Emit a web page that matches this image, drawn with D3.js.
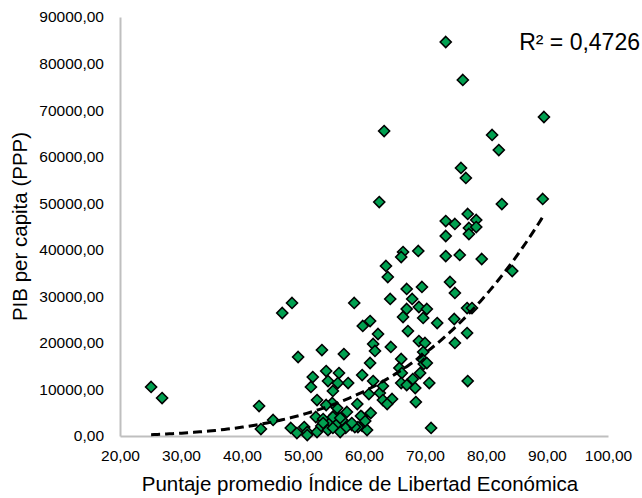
<!DOCTYPE html>
<html>
<head>
<meta charset="utf-8">
<script src="https://cdn.jsdelivr.net/npm/d3@7"></script>
<style>
    body { margin: 0; background: #fff; }
    svg { display: block; font-family: "Liberation Sans", Arial, sans-serif; }
</style>
</head>
<body>
<div class="svg-target"></div>
<script>
// Puntaje promedio (x) and PIB per capita PPP (y)
const scores = [
    73.4, 76.2, 89.5, 63.3, 81.0, 82.1, 75.9, 76.7, 62.5, 82.6,
    89.3, 77.0, 73.4, 74.9, 78.4, 77.2, 78.4, 77.2, 73.4, 66.4,
    66.1, 68.9, 73.4, 75.7, 79.3, 84.3, 63.6, 63.9, 74.1, 74.9,
    69.5, 67.0, 64.3, 67.9, 67.0, 69.0, 70.3, 76.9, 77.7, 66.4,
    69.7, 72.0, 74.8, 61.0, 59.8, 67.2, 62.3, 76.9, 74.9, 69.0,
    70.0, 61.5, 61.8, 64.4, 69.7, 61.0, 66.1, 69.5, 69.8, 65.8,
    66.2, 69.2, 59.7, 61.5, 66.1, 67.0, 68.0, 68.4, 70.7, 77.0,
    60.8, 62.6, 63.1, 64.6, 63.8, 68.5, 61.1, 59.7, 59.7, 60.5,
    71.0, 58.4, 46.6, 48.2, 49.2, 53.1, 53.8, 51.6, 54.1, 51.3,
    54.9, 52.3, 42.8, 45.1, 43.1, 52.1, 53.3, 48.0, 49.0, 50.2,
    50.7, 52.3, 53.0, 54.1, 54.6, 55.7, 55.2, 55.6, 56.7, 55.9,
    57.4, 55.7, 63.1, 58.9, 54.8, 57.2, 59.5, 54.9, 56.4, 58.0,
    60.2, 54.9, 57.0, 59.0, 56.1, 56.1, 53.8, 58.5, 25.1, 26.9,
    58.0, 53.3, 50.7, 70.3
];
const gdp = [
    84630, 76470, 68520, 65510, 64660, 61430, 57570, 55420, 50260, 49830,
    50910, 47690, 46180, 45540, 46400, 44680, 44890, 43390, 42960, 39520,
    38450, 39740, 38660, 38880, 38020, 35440, 36520, 34150, 33080, 30720,
    32010, 31580, 29430, 29430, 27280, 27710, 27280, 27490, 27490, 25560,
    25350, 24270, 25130, 24700, 23630, 22550, 21910, 22120, 19980, 20400,
    19980, 19760, 18260, 19120, 18040, 15680, 16540, 16540, 15470, 14610,
    13530, 13530, 13100, 11810, 11380, 10950, 12240, 10310, 11380, 11810,
    9020, 9240, 7730, 7950, 6870, 7300, 4940, 4080, 2150, 1290,
    1720, 28570, 26420, 28570, 16970, 18470, 13960, 12670, 11810, 10530,
    9670, 7730, 6440, 3440, 1500, 4080, 3650, 1720, 640, 1930,
    860, 860, 2150, 1290, 3010, 2790, 4510, 6010, 17610, 13530,
    11380, 11380, 10740, 6870, 7090, 5160, 4300, 4080, 3440, 2360,
    3220, 1720, 1720, 1930, 860, 3870, 6660, 1930, 10530, 8160,
    2790, 2790, 210, 15680
];

// Axis ticks
const xTicks = [20, 30, 40, 50, 60, 70, 80, 90, 100];
const yTicks = [0, 10000, 20000, 30000, 40000, 50000, 60000, 70000, 80000, 90000];

// Power trendline y = a * x^b
const trendA = 0.00074;
const trendB = 4;
const rSquared = 'R² = 0,4726';

const xTitle = 'Puntaje promedio Índice de Libertad Económica';
const yTitle = 'PIB per capita (PPP)';

const w = 642;
const h = 498;
const padding = {t: 17, r: 34, b: 62, l: 120};

const esLocale = d3.formatLocale({decimal: ',', thousands: '', grouping: [3], currency: ['', '']});
const fmt = esLocale.format('.2f');

const renderChart = () => {
    const svg = d3.select('.svg-target')
        .html('')
        .append('svg')
        .attr('width', w)
        .attr('height', h);

    const xScale = d3.scaleLinear()
        .domain([20, 100])
        .range([padding.l, w - padding.r]);
    const yScale = d3.scaleLinear()
        .domain([0, 90000])
        .range([h - padding.b, padding.t]);

    // x axis
    const xAxis = d3.axisBottom(xScale)
        .tickValues(xTicks)
        .tickSize(0)
        .tickPadding(14)
        .tickFormat(fmt);
    const gx = svg.append('g')
        .attr('id', 'x-axis')
        .attr('transform', `translate(0, ${h - padding.b})`)
        .call(xAxis);

    // y axis
    const yAxis = d3.axisLeft(yScale)
        .tickValues(yTicks)
        .tickSize(0)
        .tickPadding(16)
        .tickFormat(fmt);
    const gy = svg.append('g')
        .attr('id', 'y-axis')
        .attr('transform', `translate(${padding.l}, 0)`)
        .call(yAxis);

    [gx, gy].forEach(g => {
        g.select('.domain').attr('stroke', '#bfbfbf').attr('stroke-width', 2);
        g.selectAll('text')
            .attr('font-family', '"Liberation Sans", Arial, sans-serif')
            .attr('font-size', 15.5)
            .attr('fill', '#000');
    });

    // titles
    svg.append('text')
        .attr('x', (padding.l + w - padding.r) / 2 - 4)
        .attr('y', 491)
        .attr('text-anchor', 'middle')
        .attr('font-size', 20.5)
        .text(xTitle);
    svg.append('text')
        .attr('transform', `translate(27, ${(padding.t + h - padding.b) / 2}) rotate(-90)`)
        .attr('text-anchor', 'middle')
        .attr('font-size', 20.5)
        .text(yTitle);

    // points
    const diamond = 'M0,-5.5L5.5,0L0,5.5L-5.5,0Z';
    svg.append('g')
        .selectAll('path')
        .data(scores.map((s, i) => ({x: s, y: gdp[i]})))
        .join('path')
        .attr('d', diamond)
        .attr('transform', d => `translate(${xScale(d.x)}, ${yScale(d.y)})`)
        .attr('fill', '#00a050')
        .attr('stroke', '#000')
        .attr('stroke-width', 1.6);

    // dashed trendline over the data range
    const xMin = d3.min(scores);
    const xMax = d3.max(scores);
    const trend = d3.range(xMin, xMax, 0.5).concat([xMax]).map(x => [x, trendA * Math.pow(x, trendB)]);
    svg.append('path')
        .datum(trend)
        .attr('d', d3.line().x(d => xScale(d[0])).y(d => yScale(d[1])))
        .attr('fill', 'none')
        .attr('stroke', '#000')
        .attr('stroke-width', 3)
        .attr('stroke-dasharray', '9,5');

    // R squared label
    svg.append('text')
        .attr('x', 640)
        .attr('y', 50)
        .attr('text-anchor', 'end')
        .attr('font-size', 23)
        .text(rSquared);
};

renderChart();
</script>
</body>
</html>
